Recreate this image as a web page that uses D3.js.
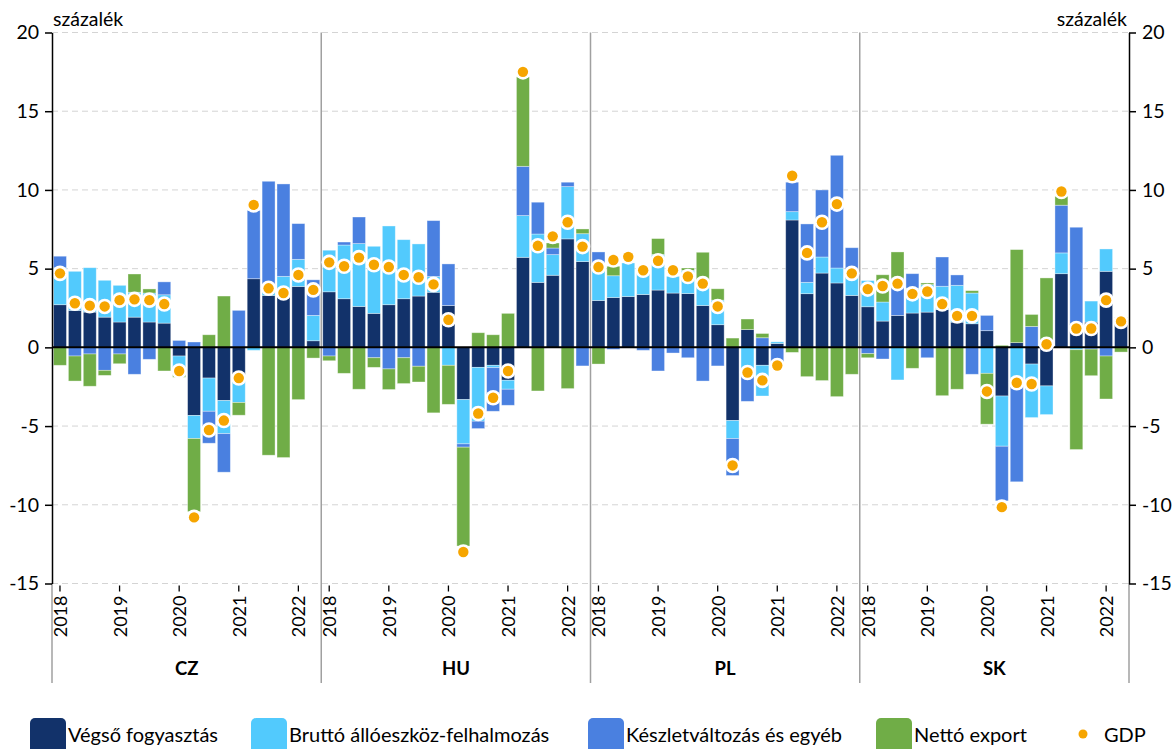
<!DOCTYPE html>
<html><head><meta charset="utf-8">
<script src="https://cdn.jsdelivr.net/npm/d3@7"></script>
<style>
body{margin:0;background:#fff;}
svg{display:block;font-family:Lato, "Open Sans", sans-serif;}
</style></head>
<body><svg id="c" width="1174" height="749"></svg>
<script>
const countries = ["CZ","HU","PL","SK"];
const quarters = ["2018Q1","2018Q2","2018Q3","2018Q4","2019Q1","2019Q2","2019Q3","2019Q4","2020Q1","2020Q2","2020Q3","2020Q4","2021Q1","2021Q2","2021Q3","2021Q4","2022Q1","2022Q2"];
const yearTicks = ["2018","2019","2020","2021","2022"];
const yTicks = [-15,-10,-5,0,5,10,15,20];
const seriesNames = ["Végső fogyasztás","Bruttó állóeszköz-felhalmozás","Készletváltozás és egyéb","Nettó export","GDP"];
const unitLabel = "százalék";

// CZ
const czFogyasztas = [2.71,2.35,2.24,1.92,1.61,1.92,1.61,1.54,-0.55,-4.33,-1.95,-3.38,-2.0,4.36,3.3,3.2,3.87,0.42];
const czBeruhazas  = [2.34,2.48,2.82,2.34,2.33,1.58,1.84,1.8,-0.9,-1.46,-2.11,-2.1,-1.5,-0.19,0.3,1.31,1.72,1.61];
const czKeszlet    = [0.74,-0.55,-0.42,-1.46,-0.42,-1.71,-0.76,0.82,0.44,0.34,-2.03,-2.45,2.35,4.34,6.95,5.87,2.27,2.26];
const czExport     = [-1.14,-1.59,-2.05,-0.32,-0.62,1.16,0.26,-1.5,-0.45,-4.65,0.8,3.26,-0.81,0,-6.85,-7.0,-3.32,-0.68];
const czGDP        = [4.7,2.8,2.65,2.6,3.0,3.05,3.0,2.75,-1.5,-10.8,-5.25,-4.65,-1.95,9.05,3.75,3.45,4.6,3.65];
// HU
const huFogyasztas = [3.53,3.09,2.6,2.16,2.71,3.09,3.26,3.5,2.66,-3.32,-1.27,-1.14,-2.09,5.72,4.13,4.58,6.89,5.45];
const huBeruhazas  = [2.64,3.41,3.99,4.26,5.0,3.75,3.31,1.0,-1.14,-2.81,-3.42,-0.15,-0.57,2.65,3.07,1.31,3.32,1.77];
const huKeszlet    = [-0.55,0.19,1.69,-0.66,-1.37,-0.66,-1.2,3.55,2.64,-0.21,-0.47,-2.77,-1.02,3.13,2.02,0.42,0.28,-1.18];
const huExport     = [-0.3,-1.65,-2.66,-0.61,-1.31,-1.64,-1.0,-4.16,-2.48,-6.28,0.93,0.8,2.16,5.68,-2.77,0.32,-2.62,0.3];
const huGDP        = [5.4,5.15,5.7,5.25,5.1,4.6,4.45,4.0,1.75,-13.0,-4.2,-3.2,-1.5,17.5,6.45,7.05,7.95,6.4];
// PL
const plFogyasztas = [2.98,3.17,3.23,3.36,3.64,3.45,3.42,2.66,1.44,-4.65,1.13,-1.14,0.25,8.09,3.41,4.72,4.09,3.3];
const plBeruhazas  = [2.17,1.38,2.13,1.41,2.26,1.06,1.47,1.54,1.56,-1.14,-1.65,-1.95,0.1,0.53,0.72,1.02,0.95,1.2];
const plKeszlet    = [0.91,-0.13,0,-0.19,-1.5,-0.36,-0.66,-2.14,-1.18,-2.35,-1.78,0.61,-1.35,1.87,3.71,4.26,7.16,1.83];
const plExport     = [-1.06,0.6,0,0,1.01,0,0.15,1.84,0.72,0.59,0.67,0.27,0,-0.32,-1.86,-2.11,-3.13,-1.71];
const plGDP        = [5.1,5.55,5.75,4.9,5.5,4.9,4.5,4.05,2.6,-7.5,-1.6,-2.1,-1.15,10.9,6.0,7.95,9.1,4.7];
// SK
const skFogyasztas = [2.58,1.67,2.03,2.18,2.24,2.4,1.6,1.5,1.06,-3.09,0.3,-1.06,-2.45,4.68,1.5,1.6,4.83,1.9];
const skBeruhazas  = [1.66,1.21,-2.07,1.58,1.74,1.48,2.34,1.95,-1.65,-3.19,-2.4,-3.4,-1.82,1.32,-0.15,1.34,1.42,0];
const skKeszlet    = [-0.4,-0.74,2.37,0.92,-0.66,1.86,0.66,-1.71,0.97,-3.47,-6.14,1.33,0,3.03,6.13,-0.11,-0.55,0];
const skExport     = [-0.26,1.73,1.66,-1.33,0.11,-3.07,-2.66,0.15,-3.23,0.13,5.91,0.76,4.41,0.57,-6.34,-1.69,-2.73,-0.3];
const skGDP        = [3.7,3.9,4.05,3.4,3.55,2.75,2.0,2.0,-2.8,-10.15,-2.25,-2.33,0.2,9.9,1.2,1.2,3.0,1.65];

const colors = ["#12326a","#52cafd","#4a80e0","#70ad47","#f6a500"];
const keys = ["f","b","k","n"];

const byCountry = {
  CZ:[czFogyasztas,czBeruhazas,czKeszlet,czExport,czGDP],
  HU:[huFogyasztas,huBeruhazas,huKeszlet,huExport,huGDP],
  PL:[plFogyasztas,plBeruhazas,plKeszlet,plExport,plGDP],
  SK:[skFogyasztas,skBeruhazas,skKeszlet,skExport,skGDP]
};
const rows = [];
countries.forEach(c => {
  const a = byCountry[c];
  quarters.forEach((q,i) => rows.push({country:c, quarter:q, f:a[0][i], b:a[1][i], k:a[2][i], n:a[3][i], gdp:a[4][i]}));
});

const svg = d3.select("#c");
const L = 52, R = 1129, T = 32.5, B = 583.5;
const y = d3.scaleLinear().domain([-15,20]).range([B,T]);
const xOuter = d3.scaleBand().domain(countries).range([L,R]).padding(0);
const xInner = d3.scaleBand().domain(quarters).range([0,xOuter.bandwidth()]).paddingInner(0.13).paddingOuter(0.1);
const xc = d => xOuter(d.country) + xInner(d.quarter);

// gridlines
svg.append("g").selectAll("line").data(yTicks.filter(v=>v!==0)).join("line")
  .attr("x1",L).attr("x2",R).attr("y1",d=>y(d)).attr("y2",d=>y(d))
  .attr("stroke","#d4d4d4").attr("stroke-width",1).attr("stroke-dasharray","6,4");

// panel separators and axis extensions
svg.append("g").selectAll("line").data(countries.slice(1)).join("line")
  .attr("x1",d=>xOuter(d)).attr("x2",d=>xOuter(d)).attr("y1",T).attr("y2",683)
  .attr("stroke","#a0a0a0").attr("stroke-width",1.5);
svg.append("g").selectAll("line").data([L,R]).join("line")
  .attr("x1",d=>d).attr("x2",d=>d).attr("y1",B).attr("y2",683)
  .attr("stroke","#a0a0a0").attr("stroke-width",1.5);

// bars
const stack = d3.stack().keys(keys).offset(d3.stackOffsetDiverging)(rows);
svg.append("g").selectAll("g").data(stack).join("g")
  .attr("fill",(d,i)=>colors[i])
  .selectAll("rect").data(d=>d).join("rect")
  .attr("x",d=>xc(d.data)).attr("width",xInner.bandwidth())
  .attr("y",d=>y(Math.max(d[0],d[1]))).attr("height",d=>Math.abs(y(d[0])-y(d[1])))
  .attr("stroke","#ffffff").attr("stroke-opacity",0.45).attr("stroke-width",0.8);

// zero line
svg.append("line").attr("x1",L).attr("x2",R).attr("y1",y(0)).attr("y2",y(0))
  .attr("stroke","#000").attr("stroke-width",2);

// GDP points
const pts = svg.append("g");
pts.selectAll("circle.w").data(rows).join("circle").attr("class","w")
  .attr("cx",d=>xc(d)+xInner.bandwidth()/2).attr("cy",d=>y(d.gdp)).attr("r",7.8).attr("fill","#fff");
pts.selectAll("circle.o").data(rows).join("circle").attr("class","o")
  .attr("cx",d=>xc(d)+xInner.bandwidth()/2).attr("cy",d=>y(d.gdp)).attr("r",5.2).attr("fill",colors[4]);

// y axes
const fmt = d => String(d);
const yl = svg.append("g").attr("transform",`translate(${L},0)`)
  .call(d3.axisLeft(y).tickValues(yTicks).tickFormat(fmt).tickSize(7).tickSizeOuter(0).tickPadding(6));
const yr = svg.append("g").attr("transform",`translate(${R},0)`)
  .call(d3.axisRight(y).tickValues(yTicks).tickFormat(fmt).tickSize(7).tickSizeOuter(0).tickPadding(6));
[yl,yr].forEach(g=>{
  g.select(".domain").attr("stroke","#000").attr("stroke-width",1.5);
  g.selectAll(".tick line").attr("stroke","#000").attr("stroke-width",1.5);
  g.selectAll(".tick text").attr("font-size",19.5).attr("fill","#000").style("font-family","Lato");
});
svg.append("text").attr("x",L+1).attr("y",26).attr("font-size",19.5).text(unitLabel);
svg.append("text").attr("x",R-2).attr("y",26).attr("font-size",19.5).attr("text-anchor","end").text(unitLabel);

// x ticks and year labels
countries.forEach(c=>{
  const g = svg.append("g").attr("transform",`translate(${xOuter(c)},0)`);
  yearTicks.forEach((yr,i)=>{
    const q = quarters[i*4];
    const cx = xInner(q)+xInner.bandwidth()/2;
    g.append("line").attr("x1",cx).attr("x2",cx).attr("y1",B+2).attr("y2",B+8).attr("stroke","#000").attr("stroke-width",1.3);
    g.append("text").attr("transform",`translate(${cx+0.5},${B+12}) rotate(-90)`)
      .attr("text-anchor","end").attr("dy","0.36em").attr("font-size",18).text(yr);
  });
  g.append("text").attr("x",xOuter.bandwidth()/2).attr("y",675).attr("text-anchor","middle")
    .attr("font-size",18.5).attr("font-weight","bold").text(c);
});

// legend
const legX = [30,251,588,876];
const lg = svg.append("g");
legX.forEach((lx,i)=>{
  lg.append("rect").attr("x",lx).attr("y",718).attr("width",36).attr("height",40).attr("rx",5).attr("fill",colors[i]);
  lg.append("text").attr("x",lx+38).attr("y",742).attr("font-size",20).text(seriesNames[i]);
});
lg.append("circle").attr("cx",1083).attr("cy",734).attr("r",4.5).attr("fill",colors[4]);
lg.append("text").attr("x",1104).attr("y",742).attr("font-size",20).text(seriesNames[4]);
</script></body></html>
